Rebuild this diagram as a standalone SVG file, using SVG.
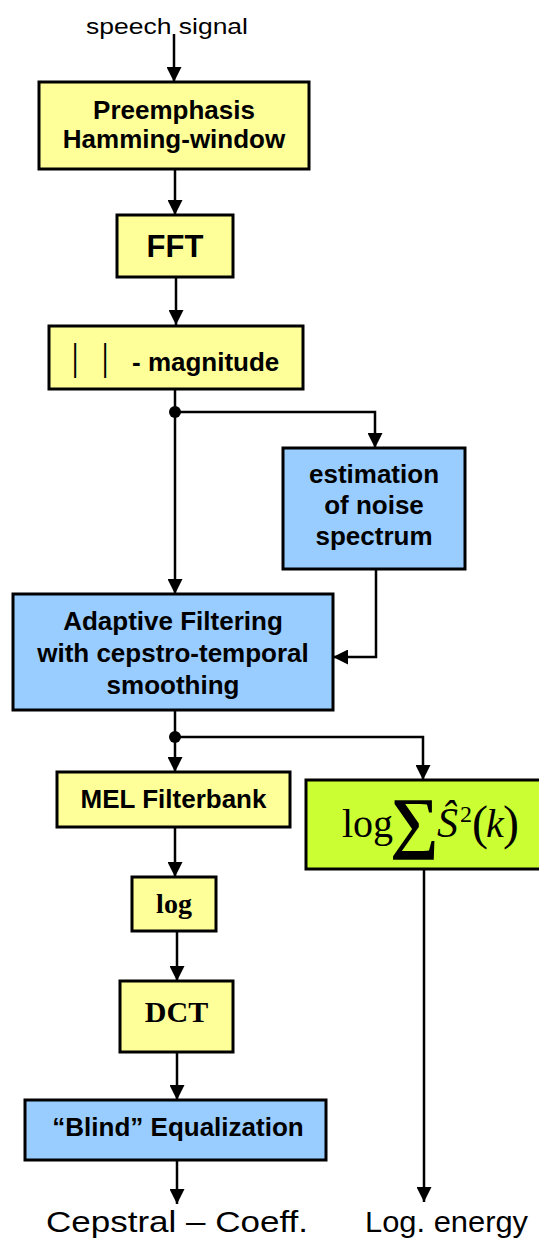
<svg xmlns="http://www.w3.org/2000/svg" width="539" height="1238" viewBox="0 0 539 1238">
<style>
.box{stroke:#000;stroke-width:3}
.y{fill:#FFFF99}
.b{fill:#99CCFF}
.g{fill:#CCFF33}
.t{font-family:"Liberation Sans",Arial,sans-serif;font-weight:bold;font-size:26px;text-anchor:middle;fill:#000}
.r{font-family:"Liberation Sans",Arial,sans-serif;font-size:29px;fill:#000}
.s{font-family:"Liberation Serif","Times New Roman",serif;fill:#000}
.c{fill:none;stroke:#000;stroke-width:2.5}
</style>
<defs>
<marker id="ah" markerUnits="userSpaceOnUse" markerWidth="15" markerHeight="15" refX="15" refY="7.5" orient="auto" viewBox="0 0 15 15">
<path d="M0,0 L15,7.5 L0,15 z" fill="#000"/>
</marker>
</defs>
<rect width="539" height="1238" fill="#fff"/>
<g id="connectors">
<path class="c" d="M174,34 V82" marker-end="url(#ah)"/>
<path class="c" d="M175,169 V215" marker-end="url(#ah)"/>
<path class="c" d="M176,277 V325" marker-end="url(#ah)"/>
<path class="c" d="M175,388 V594" marker-end="url(#ah)"/>
<path class="c" d="M175,412 H375 V448" marker-end="url(#ah)"/>
<path class="c" d="M376,569 V657 H333" marker-end="url(#ah)"/>
<path class="c" d="M175,710 V772" marker-end="url(#ah)"/>
<path class="c" d="M175,737 H423 V780" marker-end="url(#ah)"/>
<path class="c" d="M175,827 V877" marker-end="url(#ah)"/>
<path class="c" d="M177,931 V981" marker-end="url(#ah)"/>
<path class="c" d="M177,1052 V1100" marker-end="url(#ah)"/>
<path class="c" d="M177,1160 V1204" marker-end="url(#ah)"/>
<path class="c" d="M424,869 V1202" marker-end="url(#ah)"/>
<circle cx="175" cy="412" r="6" fill="#000"/>
<circle cx="175" cy="737" r="6" fill="#000"/>
</g>
<g id="input">
<text class="r" x="86" y="34" textLength="162" lengthAdjust="spacingAndGlyphs" style="font-size:22px">speech signal</text>
</g>
<g id="preemphasis">
<rect class="box y" x="39" y="82" width="270" height="87"/>
<text class="t" x="174" y="119">Preemphasis</text>
<text class="t" x="174" y="148">Hamming-window</text>
</g>
<g id="fft">
<rect class="box y" x="117" y="215" width="116" height="62"/>
<text class="t" x="175" y="257" style="font-size:31px">FFT</text>
</g>
<g id="magnitude">
<rect class="box y" x="49" y="326" width="254" height="63"/>
<text class="r" transform="translate(75,370) scale(0.65,1)" text-anchor="middle" style="font-size:37px">|</text>
<text class="r" transform="translate(105,370) scale(0.65,1)" text-anchor="middle" style="font-size:37px">|</text>
<text class="t" x="132" y="371" style="text-anchor:start">- magnitude</text>
</g>
<g id="noise-estimation">
<rect class="box b" x="283" y="448" width="182" height="121"/>
<text class="t" x="374" y="483">estimation</text>
<text class="t" x="374" y="514">of noise</text>
<text class="t" x="374" y="545">spectrum</text>
</g>
<g id="adaptive-filtering">
<rect class="box b" x="13" y="594" width="320" height="116"/>
<text class="t" x="173" y="630">Adaptive Filtering</text>
<text class="t" x="173" y="662">with cepstro-temporal</text>
<text class="t" x="173" y="694">smoothing</text>
</g>
<g id="mel-filterbank">
<rect class="box y" x="57" y="772" width="233" height="55"/>
<text class="t" x="173.5" y="808">MEL Filterbank</text>
</g>
<g id="log">
<rect class="box y" x="132" y="877" width="84" height="54"/>
<text class="s" x="174" y="913" text-anchor="middle" font-weight="bold" font-size="28">log</text>
</g>
<g id="dct">
<rect class="box y" x="120" y="981" width="113" height="71"/>
<text class="s" x="176.5" y="1022" text-anchor="middle" font-weight="bold" font-size="30">DCT</text>
</g>
<g id="blind-equalization">
<rect class="box b" x="25" y="1100" width="301" height="60"/>
<text class="t" x="178" y="1136">“Blind” Equalization</text>
</g>
<g id="log-energy">
<rect class="box g" x="306" y="780" width="240" height="89"/>
<text class="s" font-size="40">
<tspan x="342" y="837">log</tspan><tspan x="390" y="845" font-size="68" font-weight="bold">∑</tspan><tspan x="437" y="837" font-style="italic" font-size="42">Ŝ</tspan><tspan x="460" y="822" font-size="24">2</tspan><tspan x="472" y="839" font-size="48">(</tspan><tspan x="486" y="837" font-style="italic">k</tspan><tspan x="503" y="839" font-size="48">)</tspan>
</text>
</g>
<g id="outputs">
<text class="r" x="46" y="1232" textLength="262" lengthAdjust="spacingAndGlyphs">Cepstral – Coeff.</text>
<text class="r" x="365" y="1232" textLength="163" lengthAdjust="spacingAndGlyphs">Log. energy</text>
</g>
</svg>
